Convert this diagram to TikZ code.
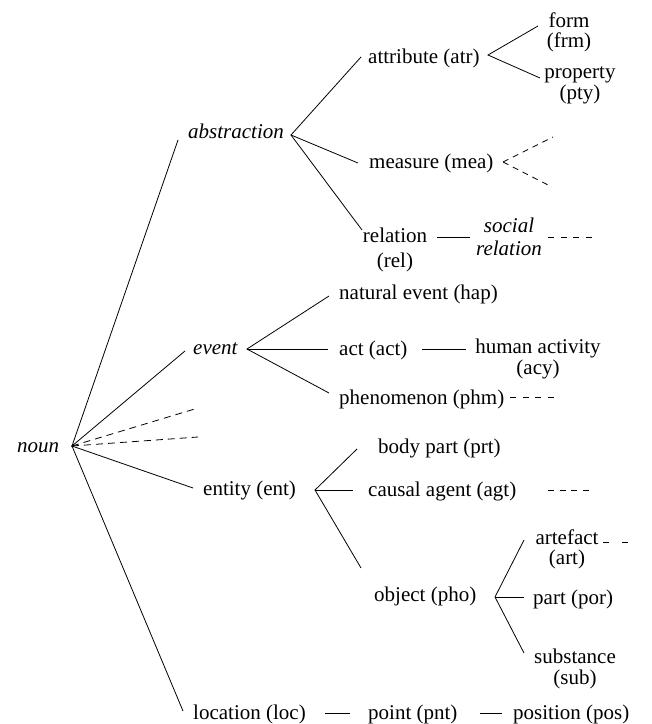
\documentclass[tikz,border=0pt]{standalone}
\usepackage{fontspec}
\setmainfont{Liberation Serif}
\begin{document}
\begin{tikzpicture}[x=1pt,y=-1pt,
  lab/.style={inner sep=0pt, anchor=base west, font=\fontsize{21}{21}\selectfont},
  ilab/.style={lab, font=\fontsize{21}{21}\selectfont\itshape},
  two/.style={inner sep=0pt, anchor=base, align=center, font=\fontsize{21}{#1}\selectfont},
  itwo/.style={inner sep=0pt, anchor=base, align=center, font=\fontsize{21}{#1}\selectfont\itshape},
  conn/.style={line width=0.8pt},
  dconn/.style={line width=0.8pt, dash pattern=on 7pt off 5pt}]
\useasboundingbox (0,0) rectangle (652,724);
% text nodes (multi-line nodes are placed by the baseline of their last line)
\node[ilab] (noun) at (17,452) {noun};
\node[ilab] (abs) at (188,138) {abstraction};
\node[lab] (atr) at (368,63) {attribute (atr)};
\node[two=20] (frm) at (569,47) {form\\(frm)};
\node[two=17] (pty) at (580,99) {property\\(pty)};
\node[lab] (mea) at (369,168) {measure (mea)};
\node[two=25] (rel) at (395,267) {relation\\(rel)};
\node[itwo=23] (soc) at (509,255) {social\\relation};
\node[ilab] (event) at (193,354) {event};
\node[lab] (hap) at (339,299) {natural event (hap)};
\node[lab] (act) at (339,355) {act (act)};
\node[two=19] (acy) at (538,374) {human activity\\(acy)};
\node[lab] (phm) at (339,404) {phenomenon (phm)};
\node[lab] (ent) at (203,495) {entity (ent)};
\node[lab] (prt) at (378,453) {body part (prt)};
\node[lab] (agt) at (368,496) {causal agent (agt)};
\node[lab] (pho) at (374,601) {object (pho)};
\node[two=20] (art) at (567,564) {artefact\\(art)};
\node[lab] (por) at (533,604) {part (por)};
\node[two=21] (sub) at (575,684) {substance\\(sub)};
\node[lab] (loc) at (193,719) {location (loc)};
\node[lab] (pnt) at (368,719) {point (pnt)};
\node[lab] (pos) at (513,719) {position (pos)};
% branch points and line ends
\coordinate (nounT) at (72,446);
\coordinate (absL) at (178,140);
\coordinate (eventL) at (185,351);
\coordinate (d1) at (198,408);
\coordinate (d2) at (198,437);
\coordinate (entL) at (193,488);
\coordinate (locL) at (183,711);
\coordinate (absT) at (291,135);
\coordinate (atrL) at (361,57);
\coordinate (meaL) at (358,163);
\coordinate (relL) at (362,230);
\coordinate (atrT) at (488,55);
\coordinate (frmL) at (538,26);
\coordinate (ptyL) at (540,78);
\coordinate (meaT) at (503,162);
\coordinate (m1) at (553,137);
\coordinate (m2) at (552,187);
\coordinate (relR) at (437,237);
\coordinate (socL) at (470,237);
\coordinate (socR) at (548,237);
\coordinate (s1) at (592,237);
\coordinate (eventT) at (247,349);
\coordinate (hapL) at (329,296);
\coordinate (actL) at (328,349);
\coordinate (phmL) at (329,393);
\coordinate (actR) at (422,349);
\coordinate (acyL) at (466,349);
\coordinate (phmR) at (510,397);
\coordinate (p1) at (554,397);
\coordinate (entT) at (315,490);
\coordinate (prtL) at (357,449);
\coordinate (agtL) at (353,490);
\coordinate (phoL) at (361,568);
\coordinate (agtR) at (548,490);
\coordinate (a1) at (589,490);
\coordinate (phoT) at (495,597);
\coordinate (artL) at (524,540);
\coordinate (porL) at (524,597);
\coordinate (subL) at (524,653);
\coordinate (artR) at (603,542);
\coordinate (r1) at (628,542);
\coordinate (locR) at (325,713);
\coordinate (pntL) at (350,713);
\coordinate (pntR) at (480,713);
\coordinate (posL) at (502,713);
% connectors
\draw[conn] (absL) -- (nounT) -- (eventL);
\draw[conn] (entL) -- (nounT) -- (locL);
\draw[dconn] (nounT) -- (d1);
\draw[dconn] (nounT) -- (d2);
\draw[conn] (atrL) -- (absT) -- (meaL);
\draw[conn] (absT) -- (relL);
\draw[conn] (frmL) -- (atrT) -- (ptyL);
\draw[dconn, dash pattern=on 6pt off 5pt] (meaT) -- (m1);
\draw[dconn, dash pattern=on 6pt off 5pt] (meaT) -- (m2);
\draw[conn] (relR) -- (socL);
\draw[dconn, dash pattern=on 6pt off 6.6pt] (socR) -- (s1);
\draw[conn] (hapL) -- (eventT) -- (phmL);
\draw[conn] (eventT) -- (actL);
\draw[conn] (actR) -- (acyL);
\draw[dconn, dash pattern=on 6pt off 6.6pt] (phmR) -- (p1);
\draw[conn] (prtL) -- (entT) -- (phoL);
\draw[conn] (entT) -- (agtL);
\draw[dconn, dash pattern=on 6pt off 5.7pt] (agtR) -- (a1);
\draw[conn] (artL) -- (phoT) -- (subL);
\draw[conn] (phoT) -- (porL);
\draw[dconn, dash pattern=on 6pt off 13pt] (artR) -- (r1);
\draw[conn] (locR) -- (pntL);
\draw[conn] (pntR) -- (posL);
\end{tikzpicture}
\end{document}
